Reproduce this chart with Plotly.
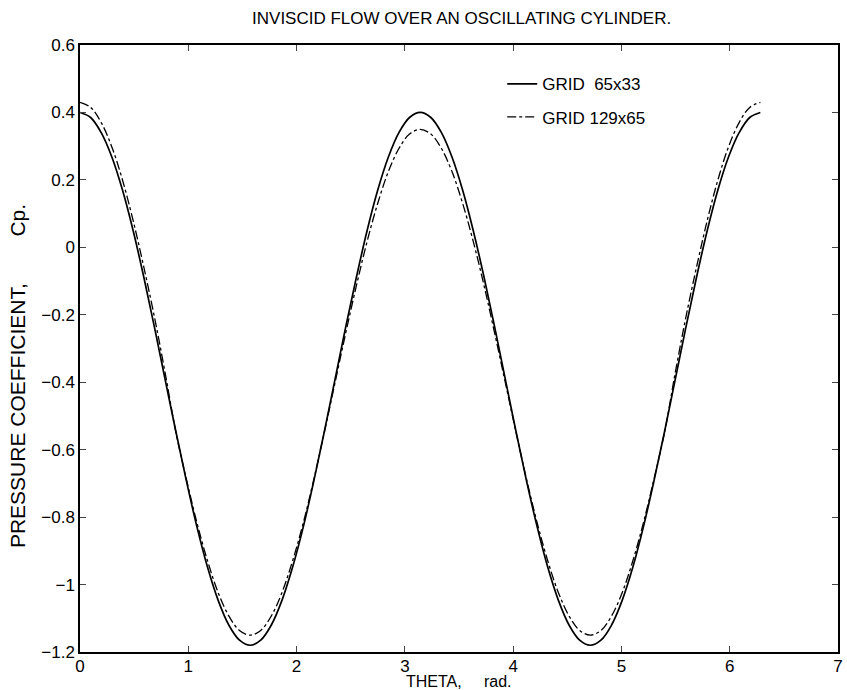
import plotly.graph_objects as go

# theta samples (rad), 0 .. 2*pi in 64 steps
theta = [0.000, 0.098, 0.196, 0.295, 0.393, 0.491, 0.589, 0.687,
         0.785, 0.884, 0.982, 1.080, 1.178, 1.276, 1.374, 1.473,
         1.571, 1.669, 1.767, 1.865, 1.963, 2.062, 2.160, 2.258,
         2.356, 2.454, 2.553, 2.651, 2.749, 2.847, 2.945, 3.043,
         3.142, 3.240, 3.338, 3.436, 3.534, 3.632, 3.731, 3.829,
         3.927, 4.025, 4.123, 4.222, 4.320, 4.418, 4.516, 4.614,
         4.712, 4.811, 4.909, 5.007, 5.105, 5.203, 5.301, 5.400,
         5.498, 5.596, 5.694, 5.792, 5.890, 5.988, 6.087, 6.185,
         6.283]

cp_65x33 = [0.400, 0.385, 0.340, 0.267, 0.169, 0.049, -0.088, -0.236,
            -0.390, -0.544, -0.692, -0.829, -0.949, -1.047, -1.120, -1.165,
            -1.180, -1.165, -1.120, -1.047, -0.949, -0.829, -0.692, -0.544,
            -0.390, -0.236, -0.088, 0.049, 0.169, 0.267, 0.340, 0.385,
            0.400, 0.385, 0.340, 0.267, 0.169, 0.049, -0.088, -0.236,
            -0.390, -0.544, -0.692, -0.829, -0.949, -1.047, -1.120, -1.165,
            -1.180, -1.165, -1.120, -1.047, -0.949, -0.829, -0.692, -0.544,
            -0.390, -0.236, -0.088, 0.049, 0.169, 0.267, 0.340, 0.385,
            0.400]

cp_129x65 = [0.430, 0.415, 0.370, 0.297, 0.199, 0.079, -0.058, -0.206,
             -0.370, -0.546, -0.687, -0.817, -0.930, -1.024, -1.093, -1.136,
             -1.150, -1.136, -1.093, -1.024, -0.930, -0.817, -0.687, -0.546,
             -0.400, -0.254, -0.113, 0.017, 0.130, 0.224, 0.293, 0.336,
             0.350, 0.336, 0.293, 0.224, 0.130, 0.017, -0.113, -0.254,
             -0.400, -0.546, -0.687, -0.817, -0.930, -1.024, -1.093, -1.136,
             -1.150, -1.136, -1.093, -1.024, -0.930, -0.817, -0.687, -0.546,
             -0.370, -0.206, -0.058, 0.079, 0.199, 0.297, 0.370, 0.415,
             0.430]

x_ticks = [0, 1, 2, 3, 4, 5, 6, 7]
y_ticks = [-1.2, -1.0, -0.8, -0.6, -0.4, -0.2, 0, 0.2, 0.4, 0.6]
y_tick_labels = ["\u22121.2", "\u22121", "\u22120.8", "\u22120.6", "\u22120.4",
                 "\u22120.2", "0", "0.2", "0.4", "0.6"]

fig = go.Figure()
fig.add_trace(go.Scatter(x=theta, y=cp_65x33, mode="lines", line_shape="spline",
                         name="GRID\u00a0\u00a065x33", legendgroup="a",
                         line=dict(color="black", width=1.7)))
fig.add_trace(go.Scatter(x=theta, y=cp_129x65, mode="lines", line_shape="spline",
                         name="GRID 129x65", legendgroup="b",
                         line=dict(color="black", width=1.3, dash="dashdot")))

font = "Liberation Sans, Arial, Helvetica, sans-serif"
fig.update_layout(
    width=847, height=690,
    margin=dict(l=80, r=9, t=45, b=38),
    paper_bgcolor="white", plot_bgcolor="white",
    font=dict(family=font, size=17, color="black"),
    title=dict(text="INVISCID FLOW OVER AN OSCILLATING CYLINDER.",
               x=0.545, xanchor="center", y=0.974, yanchor="middle",
               font=dict(size=17)),
    showlegend=True,
    legend=dict(x=0.557, y=0.965, xanchor="left", yanchor="top",
                bgcolor="rgba(0,0,0,0)", borderwidth=0,
                font=dict(size=17), tracegroupgap=8),
    xaxis=dict(range=[0, 7], tickvals=x_ticks, ticks="inside", ticklen=6,
               showline=True, linecolor="black", linewidth=1.5, mirror="ticks",
               showgrid=False, zeroline=False, tickfont=dict(size=17),
               ticklabelstandoff=-2, automargin=False),
    yaxis=dict(range=[-1.2, 0.6], tickvals=y_ticks, ticktext=y_tick_labels,
               ticks="inside", ticklen=6,
               showline=True, linecolor="black", linewidth=1.5, mirror="ticks",
               showgrid=False, zeroline=False, tickfont=dict(size=17),
               automargin=False),
    annotations=[
        dict(text="THETA,\u00a0\u00a0\u00a0\u00a0\u00a0rad.", xref="paper", yref="paper",
             x=0.5, y=-0.0478, xanchor="center", yanchor="middle",
             showarrow=False, font=dict(size=16)),
        dict(text="PRESSURE COEFFICIENT,\u00a0\u00a0\u00a0\u00a0\u00a0\u00a0\u00a0\u00a0Cp.",
             xref="paper", yref="paper", x=-0.0814, y=0.455,
             xanchor="center", yanchor="middle", textangle=-90,
             showarrow=False, font=dict(size=21)),
    ],
)

fig.write_html("out.html")
